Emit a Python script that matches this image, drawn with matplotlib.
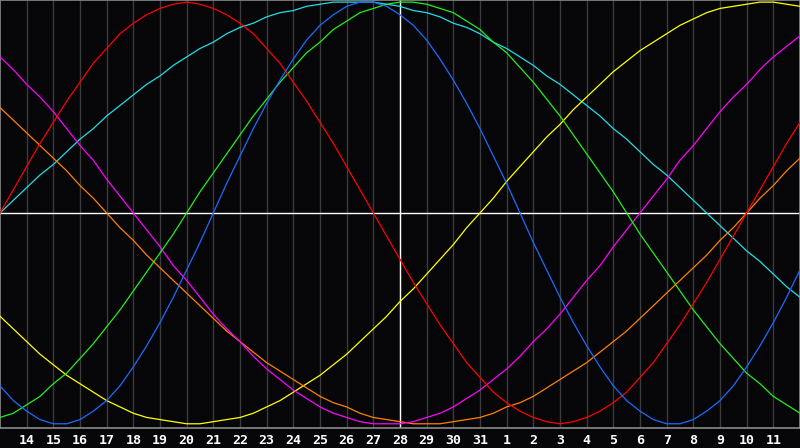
import matplotlib
matplotlib.use("Agg")
import matplotlib.pyplot as plt

# days shown: 13 Dec .. 12 Jan, today = 28
days = list(range(13, 44))
day_labels = [str(d) if d <= 31 else str(d - 31) for d in days]
today = 28

# readings every half day from day 13 to day 43, in percent
half_days = [13 + i / 2 for i in range(61)]

physical = [-82,-89,-94,-98,-100,-100,-98,-94,-89,-82,-73,-63,-52,-40,-27,-14,0,14,27,40,52,63,73,82,89,94,98,100,100,98,94,89,82,73,63,52,40,27,14,0,-14,-27,-40,-52,-63,-73,-82,-89,-94,-98,-100,-100,-98,-94,-89,-82,-73,-63,-52,-40,-27]
emotional = [0,11,22,33,43,53,62,71,78,85,90,94,97,99,100,99,97,94,90,85,78,71,62,53,43,33,22,11,0,-11,-22,-33,-43,-53,-62,-71,-78,-85,-90,-94,-97,-99,-100,-99,-97,-94,-90,-85,-78,-71,-62,-53,-43,-33,-22,-11,0,11,22,33,43]
intellectual = [-97,-95,-91,-87,-81,-76,-69,-62,-54,-46,-37,-28,-19,-10,0,10,19,28,37,46,54,62,69,76,81,87,91,95,97,99,100,100,99,97,95,91,87,81,76,69,62,54,46,37,28,19,10,0,-10,-19,-28,-37,-46,-54,-62,-69,-76,-81,-87,-91,-95]
intuitive = [74, 68, 61, 55, 48, 40, 32, 25, 16, 8, 0, -8, -16, -25, -32, -40, -48, -55, -61, -68, -74, -79, -84, -88, -92, -95, -97, -99, -100, -100, -100, -99, -97, -95, -92, -88, -84, -79, -74, -68, -61, -55, -48, -40, -32, -25, -16, -8, 0, 8, 16, 25, 32, 40, 48, 55, 61, 68, 74, 79, 84]
aesthetic = [-49, -55, -61, -67, -72, -77, -81, -85, -89, -92, -95, -97, -98, -99, -100, -100, -99, -98, -97, -95, -92, -89, -85, -81, -77, -72, -67, -61, -55, -49, -42, -36, -29, -22, -15, -7, 0, 7, 15, 22, 29, 36, 42, 49, 55, 61, 67, 72, 77, 81, 85, 89, 92, 95, 97, 98, 99, 100, 100, 99, 98]
awareness = [50, 44, 38, 32, 26, 20, 13, 7, 0, -7, -13, -20, -26, -32, -38, -44, -50, -56, -61, -66, -71, -75, -79, -83, -87, -90, -92, -95, -97, -98, -99, -100, -100, -100, -99, -98, -97, -95, -92, -90, -87, -83, -79, -75, -71, -66, -61, -56, -50, -44, -38, -32, -26, -20, -13, -7, 0, 7, 13, 20, 26]
spiritual = [0, 6, 12, 18, 23, 29, 35, 40, 46, 51, 56, 61, 65, 70, 74, 78, 81, 85, 88, 90, 93, 95, 96, 98, 99, 100, 100, 100, 100, 99, 98, 96, 95, 93, 90, 88, 85, 81, 78, 74, 70, 65, 61, 56, 51, 46, 40, 35, 29, 23, 18, 12, 6, 0, -6, -12, -18, -23, -29, -35, -40]

fig = plt.figure(figsize=(8, 4.48), dpi=100, facecolor="#060608")
ax = fig.add_axes([0, 20 / 448, 1, 428 / 448])
ax.set_facecolor("#060608")

# day grid
for d in days[1:-1]:
    ax.axvline(d, color="#3c3c3c", linewidth=1, zorder=1)

ax.axhline(0, color="white", linewidth=1.0, zorder=2)
ax.axvline(today, color="white", linewidth=1.0, zorder=2)

series = [
    (spiritual, "#22dde8"),
    (aesthetic, "#ffff00"),
    (awareness, "#ff8000"),
    (intuitive, "#ff00ff"),
    (intellectual, "#22ee22"),
    (emotional, "#ff0000"),
    (physical, "#1a6cff"),
]
for vals, col in series:
    ax.plot(half_days, vals, color=col, linewidth=0.9, zorder=3)

ax.set_xlim(days[0], days[-1])
ax.set_ylim(-102, 101)
ax.set_yticks([])
ax.set_xticks(days[1:-1])
ax.set_xticklabels(day_labels[1:-1])
ax.tick_params(axis="x", length=0, pad=4, colors="white", labelsize=9.5)
for lab in ax.get_xticklabels():
    lab.set_fontfamily("DejaVu Sans Mono")
    lab.set_fontweight("bold")

for side in ["left", "bottom", "top", "right"]:
    ax.spines[side].set_color("#8a8a8a")
    ax.spines[side].set_linewidth(1.2)

fig.savefig("out.png", dpi=100, facecolor=fig.get_facecolor())
